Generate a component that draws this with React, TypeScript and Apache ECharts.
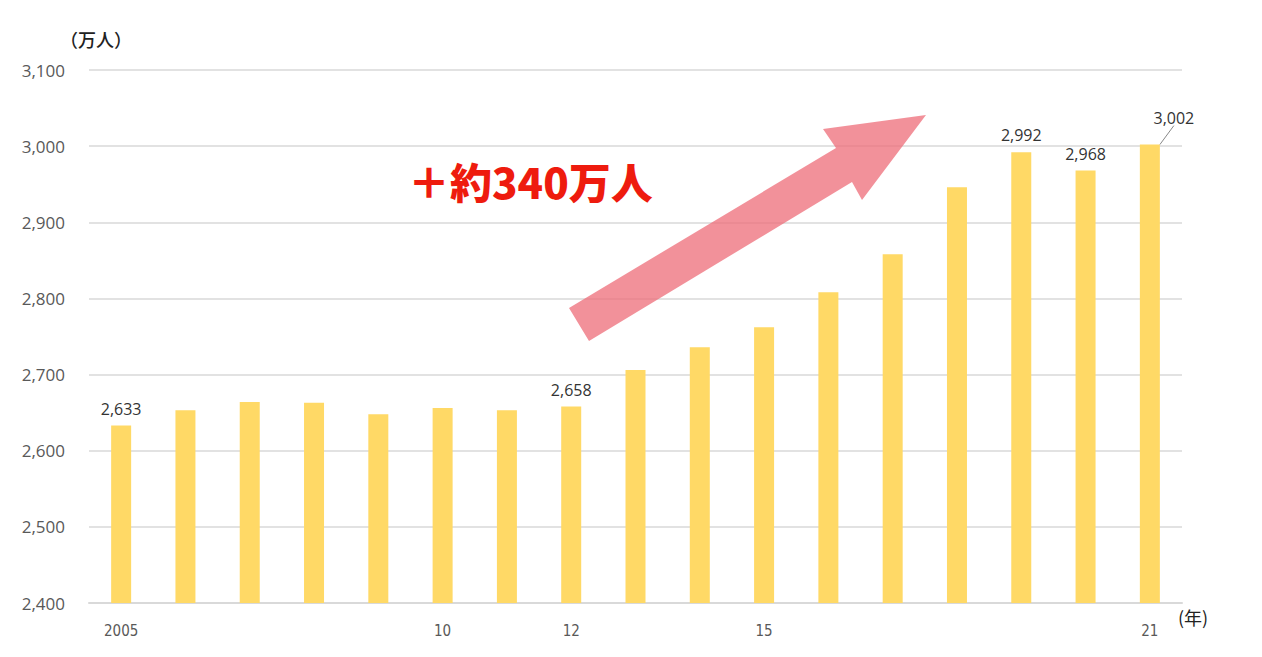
import { useEffect, useRef } from "react"
import * as echarts from "echarts"

const years = [
  "2005", "2006", "2007", "2008", "2009", "2010", "2011", "2012", "2013",
  "2014", "2015", "2016", "2017", "2018", "2019", "2020", "2021",
]
// 万人
const values = [
  2633, 2653, 2664, 2663, 2648, 2656, 2653, 2658, 2706, 2736, 2762, 2808,
  2858, 2946, 2992, 2968, 3002,
]
// 値ラベルを出す年
const labelledYears = ["2005", "2012", "2019", "2020", "2021"]
// x軸に出す目盛ラベル
const tickLabels: Record<string, string> = {
  "2005": "2005",
  "2010": "10",
  "2012": "12",
  "2015": "15",
  "2021": "21",
}
const headline = "＋約340万人"

const BAR = "#FFD966"
const GRID = "#D9D9D9"
const TEXT = "#595959"

export default function App() {
  const ref = useRef<HTMLDivElement>(null)

  useEffect(() => {
    if (!ref.current) return
    const chart = echarts.init(ref.current, undefined, { renderer: "svg" })
    const fmt = (n: number) => n.toLocaleString("en-US")

    chart.setOption({
      animation: false,
      backgroundColor: "#fff",
      grid: { left: 89, right: 80, top: 70, bottom: 54 },
      xAxis: {
        type: "category",
        data: years,
        axisLine: { lineStyle: { color: GRID, width: 2 } },
        axisTick: { show: false },
        axisLabel: {
          interval: 0,
          margin: 20,
          color: TEXT,
          fontFamily: "DejaVu Sans Condensed",
          fontSize: 15,
          formatter: (v: string) => tickLabels[v] ?? "",
        },
      },
      yAxis: {
        type: "value",
        min: 2400,
        max: 3100,
        interval: 100,
        axisLine: { show: false },
        axisTick: { show: false },
        splitLine: { lineStyle: { color: GRID, width: 1.5 } },
        axisLabel: {
          margin: 24,
          color: TEXT,
          fontFamily: "Open Sans",
          fontSize: 17,
          formatter: (v: number) => fmt(v),
        },
      },
      graphic: [
        {
          type: "text",
          left: 60,
          top: 30,
          style: {
            text: "（万人）",
            fill: "#222",
            font: "500 18px 'Noto Sans CJK JP'",
          },
        },
        {
          type: "text",
          left: 1178,
          top: 608,
          style: {
            text: "(年)",
            fill: "#222",
            font: "18px 'Noto Sans CJK JP'",
          },
        },
        {
          type: "polygon",
          z: 10,
          shape: {
            points: [
              [569, 308],
              [836, 148],
              [823, 129],
              [926, 115],
              [862, 200],
              [852, 182],
              [589, 341],
            ],
          },
          style: { fill: "#EE6C78", opacity: 0.75 },
        },
        {
          type: "text",
          left: 408,
          top: 159,
          style: {
            text: headline,
            fill: "#EE1B0E",
            font: "900 42px 'Noto Sans CJK JP'",
          },
        },
      ],
      series: [
        {
          type: "bar",
          barWidth: 20,
          data: years.map((y, i) => ({
            value: values[i],
            label: {
              show: labelledYears.includes(y),
            },
            labelLine: y === "2021" ? { show: true } : undefined,
          })),
          itemStyle: { color: BAR },
          label: {
            position: "top",
            distance: 9,
            color: "#333",
            fontFamily: "Open Sans",
            fontSize: 16,
            formatter: (p: { value: number }) => fmt(p.value),
          },
          labelLine: { lineStyle: { color: "#888", width: 1 } },
          labelLayout: (p: { dataIndex: number }) =>
            p.dataIndex === years.length - 1 ? { dx: 24, dy: -10 } : {},
        },
      ],
    })

    return () => chart.dispose()
  }, [])

  return (
    <div
      ref={ref}
      style={{ position: "fixed", left: 0, top: 0, width: 1262, height: 657 }}
    />
  )
}
